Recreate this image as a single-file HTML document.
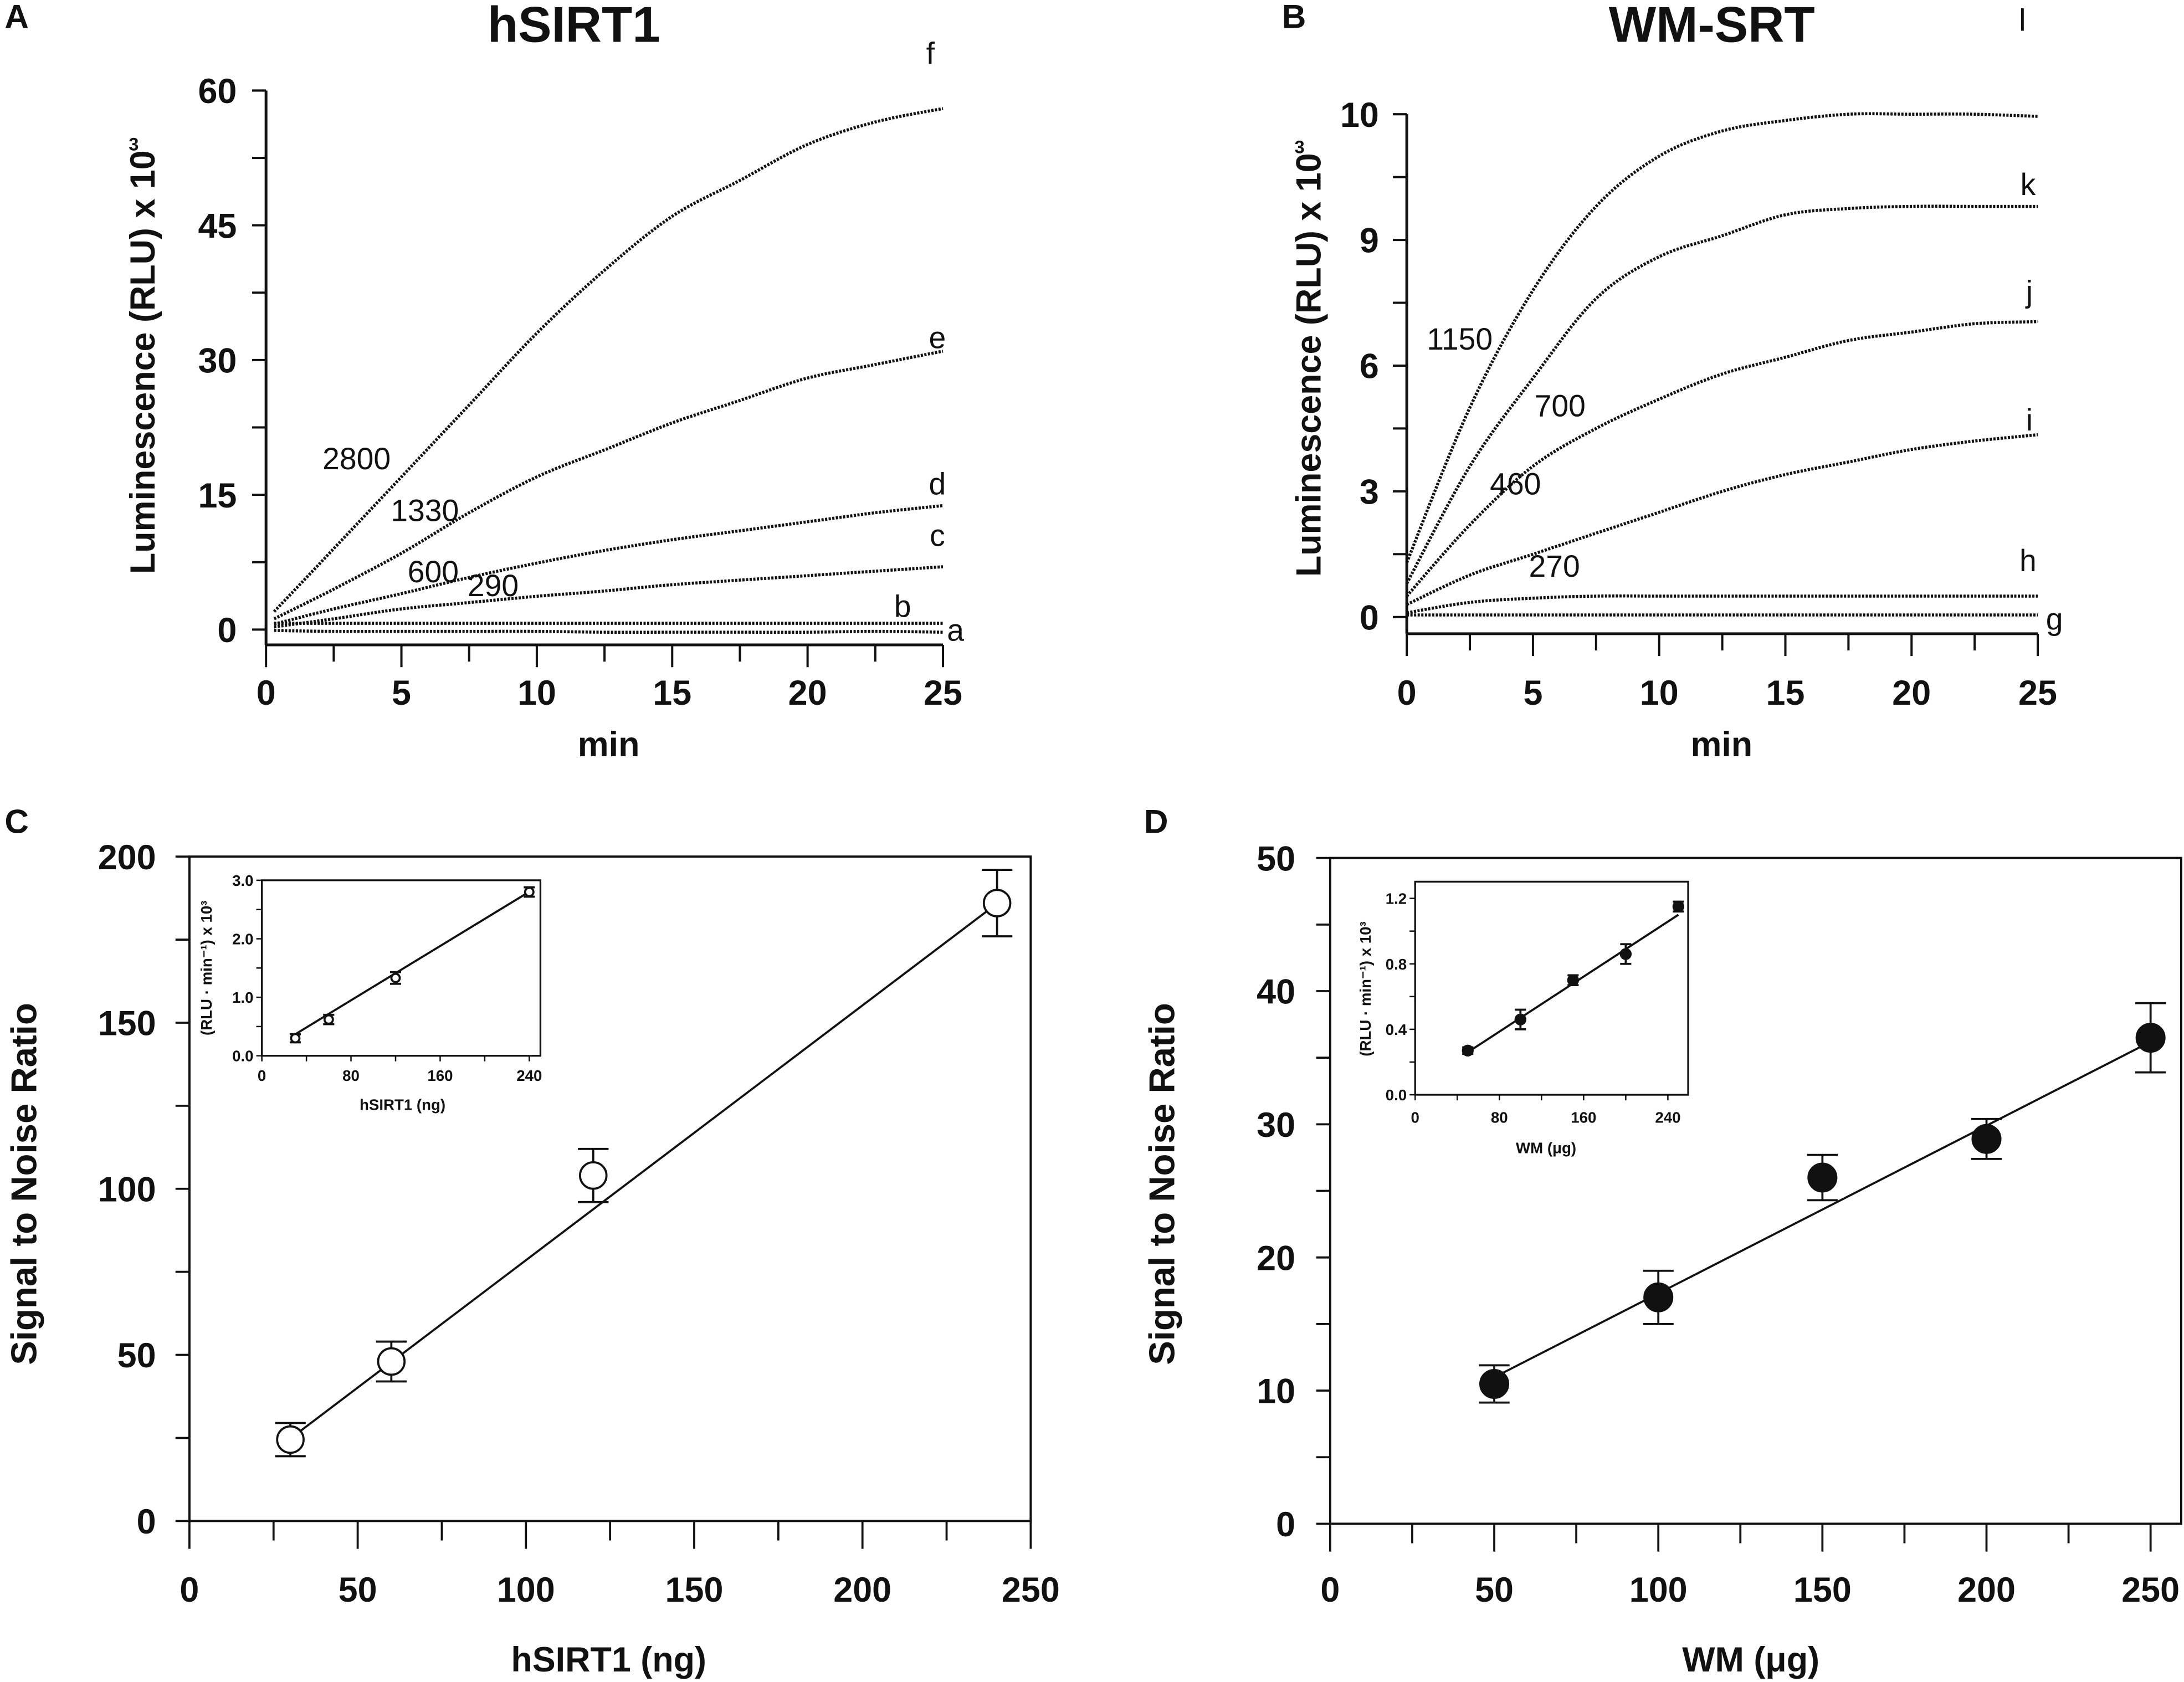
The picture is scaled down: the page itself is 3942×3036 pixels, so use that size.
<!DOCTYPE html>
<html><head><meta charset="utf-8"><style>
html,body{margin:0;padding:0;background:#fff}
svg{display:block}
text{font-family:"Liberation Sans Narrow","Liberation Sans",sans-serif;fill:#111}
.b{font-weight:bold}
</style></head><body>
<svg id="fig" width="3942" height="3036" viewBox="0 0 1568 1207.6" xmlns="http://www.w3.org/2000/svg"></svg>
<script>
// ---- Panel A data ----
const timesA = [0.3,2.5,5,7.5,10,12.5,15,17.5,20,22.5,25];
const curveF = [2,9,17,25,33,40,46,50,54,56.5,58];
const curveE = [1.2,4.5,8.5,13,17,20,23,25.5,28,29.5,31];
const curveD = [0.6,2.3,4,5.8,7.4,8.8,10,11,12,13,13.8];
const curveC = [0.3,1.2,2.3,3,3.7,4.3,5,5.5,6,6.5,7];
const curveB = [0.7,0.7,0.7,0.7,0.7,0.7,0.7,0.7,0.7,0.7,0.7];
const curveA = [-0.1,-0.2,-0.2,-0.2,-0.2,-0.3,-0.3,-0.3,-0.3,-0.2,-0.3];
const ticksA_y = [0,15,30,45,60];
const ticksTime = [0,5,10,15,20,25];
// ---- Panel B data (axis units; top tick printed as "10") ----
const timesB = [0,2.5,5,7.5,10,12.5,15,17.5,20,22.5,25];
const curveL = [1.3,5,7.8,9.8,11,11.6,11.85,12,12,12,11.95];
const curveK = [0.8,3.6,5.7,7.6,8.6,9.1,9.6,9.75,9.8,9.8,9.8];
const curveJ = [0.5,2.2,3.6,4.5,5.2,5.8,6.2,6.6,6.8,7,7.05];
const curveI = [0.3,1,1.5,2,2.5,3,3.4,3.7,4,4.2,4.35];
const curveH = [0.1,0.35,0.45,0.5,0.5,0.5,0.5,0.5,0.5,0.5,0.5];
const curveG = [0.05,0.05,0.05,0.05,0.05,0.05,0.05,0.05,0.05,0.05,0.05];
const ticksB_y = [0,3,6,9,12];
const ticksB_lbl = ["0","3","6","9","10"];
// ---- Panel C data ----
const xC = [30,60,120,240];
const yC = [24.5,48,104,186];
const eC = [5,6,8,10];
const fitC = [1.8,0.767];
const xCi = [30,60,120,240];
const yCi = [0.3,0.62,1.33,2.8];
const eCi = [0.07,0.08,0.1,0.08];
const ticksC_y = [0,50,100,150,200];
const ticksCD_x = [0,50,100,150,200,250];
const ticksIn_x = [0,80,160,240];
const ticksCi_y = [0,1,2,3];
const ticksCi_lbl = ["0.0","1.0","2.0","3.0"];
// ---- Panel D data ----
const xD = [50,100,150,200,250];
const yD = [10.5,17,26,28.9,36.5];
const eD = [1.4,2,1.7,1.5,2.6];
const fitD = [4.7,0.126];
const xDi = [50,100,150,200,250];
const yDi = [0.27,0.46,0.7,0.86,1.15];
const eDi = [0.02,0.06,0.03,0.06,0.03];
const ticksD_y = [0,10,20,30,40,50];
const ticksDi_y = [0,0.4,0.8,1.2];
const ticksDi_lbl = ["0.0","0.4","0.8","1.2"];

const NS="http://www.w3.org/2000/svg";
const svg=document.getElementById('fig');
function mk(tag,attrs,parent){const e=document.createElementNS(NS,tag);for(const k in attrs)e.setAttribute(k,attrs[k]);(parent||svg).appendChild(e);return e;}
function txt(s,x,y,size,bold,anchor,parent,rot){const e=mk('text',{x:x,y:y,'font-size':size,'text-anchor':anchor||'middle'},parent);if(bold)e.setAttribute('class','b');if(rot)e.setAttribute('transform','rotate(-90 '+x+' '+y+')');e.textContent=s;return e;}
function scale(d0,d1,r0,r1){return v=>r0+(v-d0)*(r1-r0)/(d1-d0);}
function group(name){const g=mk('g',{});return g;}

// ================= Panel A =================
const gA=group('panel-a');
const axA=scale(0,25,191,677), ayA=scale(0,60,452,65);
let t=txt('A',12,20,24,true,'middle',gA);
t=txt('hSIRT1',412,30,36,true,'middle',gA);
mk('line',{x1:191,y1:65,x2:191,y2:463,stroke:'#111','stroke-width':2},gA);
mk('line',{x1:191,y1:463,x2:677,y2:463,stroke:'#111','stroke-width':2},gA);
for(let v=0;v<=60;v+=7.5){const y=ayA(v);mk('line',{x1:181,y1:y,x2:191,y2:y,stroke:'#111','stroke-width':1.6},gA);}
ticksA_y.forEach(v=>{t=txt(String(v),170,ayA(v)+9,25,true,'end',gA);});
for(let v=0;v<=25;v+=2.5){const x=axA(v);mk('line',{x1:x,y1:463,x2:x,y2:(v%5===0?479:475),stroke:'#111','stroke-width':1.6},gA);}
ticksTime.forEach(v=>{t=txt(String(v),axA(v),506,25,true,'middle',gA);});
t=txt('min',437,543,25,true,'middle',gA);
t=txt('Luminescence (RLU) x 10',111,260,25,true,'middle',gA,true);
txt('3',96,108,13,true,'middle',gA);
function curve(times,vals,ax,ay,name,parent){
  const P=times.map((x,i)=>[ax(x),ay(vals[i])]);
  let d='M'+P[0][0].toFixed(1)+' '+P[0][1].toFixed(1);
  for(let i=0;i<P.length-1;i++){
    const p0=P[Math.max(0,i-1)],p1=P[i],p2=P[i+1],p3=P[Math.min(P.length-1,i+2)];
    const c1=[p1[0]+(p2[0]-p0[0])/6,p1[1]+(p2[1]-p0[1])/6];
    const c2=[p2[0]-(p3[0]-p1[0])/6,p2[1]-(p3[1]-p1[1])/6];
    d+=' C'+c1[0].toFixed(1)+' '+c1[1].toFixed(1)+' '+c2[0].toFixed(1)+' '+c2[1].toFixed(1)+' '+p2[0].toFixed(1)+' '+p2[1].toFixed(1);
  }
  const p=mk('path',{d:d,fill:'none',stroke:'#111','stroke-width':2.2,'stroke-dasharray':'1.6 1'},parent);
  }
curve(timesA,curveF,axA,ayA,'curve-f',gA);
curve(timesA,curveE,axA,ayA,'curve-e',gA);
curve(timesA,curveD,axA,ayA,'curve-d',gA);
curve(timesA,curveC,axA,ayA,'curve-c',gA);
curve(timesA,curveB,axA,ayA,'curve-b',gA);
curve(timesA,curveA,axA,ayA,'curve-a',gA);
[['2800',256,337],['1330',305,374],['600',311,418],['290',354,428],['f',668,46],['e',673,250],['d',673,355],['c',673,392],['b',648,443],['a',686,460]].forEach(a=>{t=txt(a[0],a[1],a[2],22,false,'middle',gA);});

// ================= Panel B =================
const gB=group('panel-b');
const axB=scale(0,25,1010,1463), ayB=scale(0,12,443,82);
t=txt('B',929,20,24,true,'middle',gB);
t=txt('WM-SRT',1229,30,36,true,'middle',gB);
mk('line',{x1:1010,y1:82,x2:1010,y2:455,stroke:'#111','stroke-width':2},gB);
mk('line',{x1:1010,y1:455,x2:1463,y2:455,stroke:'#111','stroke-width':2},gB);
for(let v=0;v<=12;v+=1.5){const y=ayB(v);mk('line',{x1:1000,y1:y,x2:1010,y2:y,stroke:'#111','stroke-width':1.6},gB);}
ticksB_y.forEach((v,i)=>{t=txt(ticksB_lbl[i],990,ayB(v)+9,25,true,'end',gB);});
for(let v=0;v<=25;v+=2.5){const x=axB(v);mk('line',{x1:x,y1:455,x2:x,y2:(v%5===0?471:467),stroke:'#111','stroke-width':1.6},gB);}
ticksTime.forEach(v=>{t=txt(String(v),axB(v),506,25,true,'middle',gB);});
t=txt('min',1236,543,25,true,'middle',gB);
t=txt('Luminescence (RLU) x 10',948,262,25,true,'middle',gB,true);
txt('3',933,110,13,true,'middle',gB);
curve(timesB,curveL,axB,ayB,'curve-l',gB);
curve(timesB,curveK,axB,ayB,'curve-k',gB);
curve(timesB,curveJ,axB,ayB,'curve-j',gB);
curve(timesB,curveI,axB,ayB,'curve-i',gB);
curve(timesB,curveH,axB,ayB,'curve-h',gB);
curve(timesB,curveG,axB,ayB,'curve-g',gB);
[['1150',1048,251],['700',1120,299],['460',1088,355],['270',1116,414],['l',1452,22],['k',1456,140],['j',1457,217],['i',1457,309],['h',1456,410],['g',1475,452]].forEach(a=>{t=txt(a[0],a[1],a[2],22,false,'middle',gB);});

// ================= scatter helper =================
function scatter(g,xs,ys,es,ax,ay,r,filled,cap,name){
  xs.forEach((x,i)=>{const cx=ax(x),cy=ay(ys[i]);
    const eg=mk('g',{},g);
    
    
    mk('line',{x1:cx,y1:ay(ys[i]+es[i]),x2:cx,y2:ay(ys[i]-es[i]),stroke:'#111','stroke-width':1.5},eg);
    mk('line',{x1:cx-cap,y1:ay(ys[i]+es[i]),x2:cx+cap,y2:ay(ys[i]+es[i]),stroke:'#111','stroke-width':1.5},eg);
    mk('line',{x1:cx-cap,y1:ay(ys[i]-es[i]),x2:cx+cap,y2:ay(ys[i]-es[i]),stroke:'#111','stroke-width':1.5},eg);
    mk('circle',{cx:cx,cy:cy,r:r,fill:filled?'#111':'#fff',stroke:'#111','stroke-width':1.5},eg);});
}
function fit(g,f,x0,x1,ax,ay,name){const l=mk('line',{x1:ax(x0),y1:ay(f[0]+f[1]*x0),x2:ax(x1),y2:ay(f[0]+f[1]*x1),stroke:'#111','stroke-width':1.5},g);}

// ================= Panel C =================
const gC=group('panel-c');
const axC=scale(0,250,136,740), ayC=scale(0,200,1092,615);
t=txt('C',12,598,24,true,'middle',gC);
mk('rect',{x:136,y:615,width:604,height:477,fill:'none',stroke:'#111','stroke-width':1.6},gC);
for(let v=0;v<=200;v+=25){const y=ayC(v);mk('line',{x1:126,y1:y,x2:136,y2:y,stroke:'#111','stroke-width':1.5},gC);}
ticksC_y.forEach(v=>{t=txt(String(v),112,ayC(v)+9,25,true,'end',gC);});
for(let v=0;v<=250;v+=25){const x=axC(v);mk('line',{x1:x,y1:1092,x2:x,y2:(v%50===0?1112:1106),stroke:'#111','stroke-width':1.5},gC);}
ticksCD_x.forEach(v=>{t=txt(String(v),axC(v),1150,25,true,'middle',gC);});
t=txt('hSIRT1 (ng)',437,1200,25,true,'middle',gC);
t=txt('Signal to Noise Ratio',26,850,26,true,'middle',gC,true);
fit(gC,fitC,30,240,axC,ayC,'fit-line-c');
scatter(gC,xC,yC,eC,axC,ayC,9.5,false,11,'point-c');
// inset C
const iC=group('inset-c');gC.appendChild(iC);
const axCi=scale(0,250,188,388), ayCi=scale(0,3,758,632);
mk('rect',{x:188,y:632,width:200,height:126,fill:'#fff',stroke:'#111','stroke-width':1.3},iC);
for(let v=0;v<=3;v+=0.5){const y=ayCi(v);mk('line',{x1:184,y1:y,x2:188,y2:y,stroke:'#111','stroke-width':1},iC);}
ticksCi_y.forEach((v,i)=>{t=txt(ticksCi_lbl[i],182,ayCi(v)+4,11,true,'end',iC);});
for(let v=0;v<=240;v+=40){const x=axCi(v);mk('line',{x1:x,y1:758,x2:x,y2:762,stroke:'#111','stroke-width':1},iC);}
ticksIn_x.forEach(v=>{t=txt(String(v),axCi(v),776,11,true,'middle',iC);});
t=txt('hSIRT1 (ng)',289,797,11,true,'middle',iC);
t=txt('(RLU · min⁻¹) x 10³',152,695,11,true,'middle',iC,true);
fit(iC,[0.02,0.0116],30,240,axCi,ayCi,'inset-fit-c');
scatter(iC,xCi,yCi,eCi,axCi,ayCi,3,false,4,'inset-point-c');

// ================= Panel D =================
const gD=group('panel-d');
const axD=scale(0,250,955,1544), ayD=scale(0,50,1094,616);
t=txt('D',830,598,24,true,'middle',gD);
mk('rect',{x:955,y:616,width:611,height:478,fill:'none',stroke:'#111','stroke-width':1.6},gD);
for(let v=0;v<=50;v+=5){const y=ayD(v);mk('line',{x1:945,y1:y,x2:955,y2:y,stroke:'#111','stroke-width':1.5},gD);}
ticksD_y.forEach(v=>{t=txt(String(v),930,ayD(v)+9,25,true,'end',gD);});
for(let v=0;v<=250;v+=25){const x=axD(v);mk('line',{x1:x,y1:1094,x2:x,y2:(v%50===0?1114:1108),stroke:'#111','stroke-width':1.5},gD);}
ticksCD_x.forEach(v=>{t=txt(String(v),axD(v),1150,25,true,'middle',gD);});
t=txt('WM (μg)',1257,1200,25,true,'middle',gD);
t=txt('Signal to Noise Ratio',843,850,26,true,'middle',gD,true);
fit(gD,fitD,50,250,axD,ayD,'fit-line-d');
scatter(gD,xD,yD,eD,axD,ayD,10,true,11,'point-d');
// inset D
const iD=group('inset-d');gD.appendChild(iD);
const axDi=scale(0,250,1016,1205), ayDi=scale(0,1.2,786,645);
mk('rect',{x:1016,y:633,width:196,height:153,fill:'#fff',stroke:'#111','stroke-width':1.3},iD);
for(let v=0;v<=1.2001;v+=0.2){const y=ayDi(v);mk('line',{x1:1012,y1:y,x2:1016,y2:y,stroke:'#111','stroke-width':1},iD);}
ticksDi_y.forEach((v,i)=>{t=txt(ticksDi_lbl[i],1010,ayDi(v)+4,11,true,'end',iD);});
for(let v=0;v<=240;v+=40){const x=axDi(v);mk('line',{x1:x,y1:786,x2:x,y2:790,stroke:'#111','stroke-width':1},iD);}
ticksIn_x.forEach(v=>{t=txt(String(v),axDi(v),806,11,true,'middle',iD);});
t=txt('WM (μg)',1110,828,11,true,'middle',iD);
t=txt('(RLU · min⁻¹) x 10³',984,710,11,true,'middle',iD,true);
fit(iD,[0.05,0.0042],50,250,axDi,ayDi,'inset-fit-d');
scatter(iD,xDi,yDi,eDi,axDi,ayDi,3.5,true,4,'inset-point-d');
</script>
</body></html>
